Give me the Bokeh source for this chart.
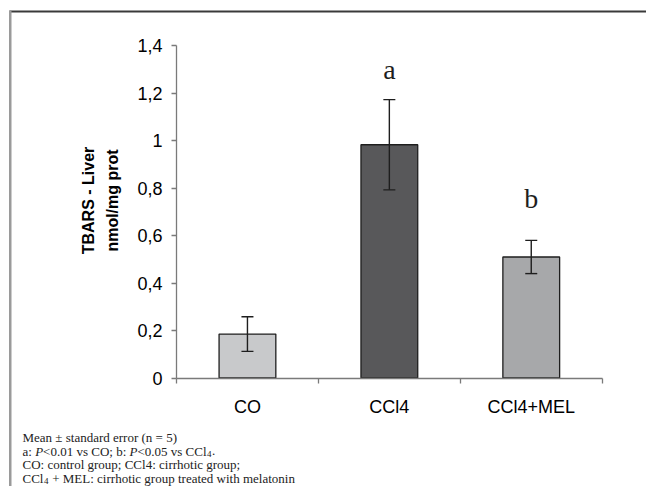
import math
from bokeh.plotting import figure
from bokeh.models import Range1d, FixedTicker, Whisker, ColumnDataSource, Label, TeeHead, BoxAnnotation
from bokeh.embed import file_html
from bokeh.resources import INLINE

# ---- data ----
categories = ["CO", "CCl4", "CCl4+MEL"]
means = [0.185, 0.983, 0.51]
sem = [0.073, 0.19, 0.07]
bar_colors = ["#c8c9cb", "#58585a", "#a7a8aa"]
sig_letters = ["", "a", "b"]
y_ticks = [0, 0.2, 0.4, 0.6, 0.8, 1.0, 1.2, 1.4]
y_tick_labels = ["0", "0,2", "0,4", "0,6", "0,8", "1", "1,2", "1,4"]

xs = [i + 0.5 for i in range(len(categories))]
src = ColumnDataSource(dict(
    x=xs, top=means, color=bar_colors,
    upper=[m + s for m, s in zip(means, sem)],
    lower=[m - s for m, s in zip(means, sem)],
))

# ---- layout (pixels) ----
W, H = 646, 486
AX_L, AX_R = 176.0, 601.7      # x pixel of category axis start/end
AX_B, AX_T = 377.5, 45.3       # y pixel of value axis 0 / max
XMAX = len(categories)
YMAX = y_ticks[-1]
KX = (AX_R - AX_L) / XMAX
KY = (AX_B - AX_T) / YMAX


def xd(px):
    return (px - AX_L) / KX


def yd(py):
    return (AX_B - py) / KY


p = figure(width=W, height=H, x_range=Range1d(xd(0), xd(W)), y_range=Range1d(yd(H), yd(0)),
           output_backend="svg", toolbar_location=None,
           min_border_left=0, min_border_right=0, min_border_top=0, min_border_bottom=0)
p.outline_line_color = None
p.grid.visible = False
p.background_fill_color = "white"
p.border_fill_color = "white"

p.vbar(x="x", top="top", width=0.4, bottom=0, source=src, fill_color="color",
       line_color="#1e1e1e", line_width=1.3)

w = Whisker(source=src, base="x", upper="upper", lower="lower",
            line_color="#1e1e1e", line_width=1.4, level="overlay",
            upper_head=TeeHead(size=12, line_color="#1e1e1e", line_width=1.4),
            lower_head=TeeHead(size=12, line_color="#1e1e1e", line_width=1.4))
p.add_layout(w)

# x axis
xa = p.xaxis[0]
xa.fixed_location = 0
xa.bounds = (0, XMAX)
xa.ticker = FixedTicker(ticks=xs, minor_ticks=list(range(len(categories) + 1)))
xa.major_label_overrides = {x: c for x, c in zip(xs, categories)}
xa.major_tick_out = 0
xa.major_tick_in = 0
xa.minor_tick_out = 5
xa.minor_tick_in = 0
xa.axis_line_color = "#7a7a7a"
xa.axis_line_width = 1.3
xa.minor_tick_line_color = "#7a7a7a"
xa.minor_tick_line_width = 1.3
xa.major_label_text_font = "Liberation Sans"
xa.major_label_text_font_size = "18px"
xa.major_label_text_color = "black"
xa.major_label_standoff = 14

# y axis
ya = p.yaxis[0]
ya.fixed_location = 0
ya.bounds = (0, YMAX)
ya.ticker = FixedTicker(ticks=y_ticks, minor_ticks=[])
ya.major_label_overrides = {t: l for t, l in zip(y_ticks, y_tick_labels)}
ya.major_tick_out = 5
ya.major_tick_in = 0
ya.axis_line_color = "#7a7a7a"
ya.axis_line_width = 1.3
ya.major_tick_line_color = "#7a7a7a"
ya.major_tick_line_width = 1.3
ya.major_label_text_font = "Liberation Sans"
ya.major_label_text_font_size = "18px"
ya.major_label_text_color = "black"
ya.major_label_standoff = 9

# frame lines of the figure panel
p.add_layout(BoxAnnotation(left=xd(9), right=xd(W + 5), top=yd(10), bottom=yd(12),
                           fill_color="#3a3a3a", fill_alpha=1, line_color=None, level="overlay"))
p.add_layout(BoxAnnotation(left=xd(8.5), right=xd(11), top=yd(10), bottom=yd(H + 5),
                           fill_color="#9a9a9a", fill_alpha=1, line_color=None, level="overlay"))

# y axis title (two lines)
for txt, px in [("TBARS - Liver", 88), ("nmol/mg prot", 112)]:
    p.add_layout(Label(x=xd(px), y=yd(200), text=txt,
                       angle=math.pi / 2, text_align="center", text_baseline="middle",
                       text_font="Liberation Sans", text_font_style="bold",
                       text_font_size="16px", text_color="black"))

# significance letters
sig_y = [0, 1.30, 0.755]
for x, letter, yy in zip(xs, sig_letters, sig_y):
    if letter:
        p.add_layout(Label(x=x, y=yy, text=letter, text_align="center",
                           text_baseline="alphabetic", text_font="Liberation Serif",
                           text_font_size="28px", text_color="#1e1e1e"))

# footnote
TW = {' ': 250, '!': 333, '(': 333, ')': 333, '+': 564, ',': 250, '-': 333, '.': 250, '/': 278,
      ':': 278, ';': 278, '<': 564, '=': 564, '>': 564, '±': 564,
      'A': 722, 'B': 667, 'C': 667, 'D': 722, 'E': 611, 'F': 556, 'G': 722, 'H': 722, 'I': 333,
      'L': 611, 'M': 889, 'N': 722, 'O': 722, 'P': 556, 'R': 667, 'S': 556, 'T': 611,
      'a': 444, 'b': 500, 'c': 444, 'd': 500, 'e': 444, 'f': 333, 'g': 500, 'h': 500, 'i': 278,
      'k': 500, 'l': 278, 'm': 778, 'n': 500, 'o': 500, 'p': 500, 'r': 333, 's': 389, 't': 278,
      'u': 500, 'v': 500, 'w': 722, 'x': 500, 'y': 500}
FS = 13
SUB = 9


def width(s, size, italic=False):
    if italic and s == "P":
        return 611 * size / 1000
    return sum(TW.get(c, 500) for c in s) * size / 1000


foot_lines = [
    [("Mean ± standard error (n = 5)", "n")],
    [("a: ", "n"), ("P", "i"), ("<0.01 vs CO; b: ", "n"), ("P", "i"), ("<0.05 vs CCl", "n"), ("4", "s"), (".", "n")],
    [("CO: control group; CCl4: cirrhotic group;", "n")],
    [("CCl", "n"), ("4", "s"), (" + MEL: cirrhotic group treated with melatonin", "n")],
]
for i, runs in enumerate(foot_lines):
    cx = 22
    cy = 437 + 13.5 * i
    for txt, kind in runs:
        size = SUB if kind == "s" else FS
        lead = len(txt) - len(txt.lstrip(" "))
        cx += width(" " * lead, size)
        shown = txt.strip(" ")
        p.add_layout(Label(x=xd(cx + (0.5 if kind == "s" else 0)), y=yd(cy + (3 if kind == "s" else 0)),
                           text=shown, text_align="left", text_baseline="middle",
                           text_font="Liberation Serif", text_font_size=f"{size}px",
                           text_font_style="italic" if kind == "i" else "normal",
                           text_color="#222222"))
        cx += width(txt.lstrip(" "), size, kind == "i") + (1 if kind == "s" else 0)

open("out.html", "w").write(file_html(p, INLINE))
